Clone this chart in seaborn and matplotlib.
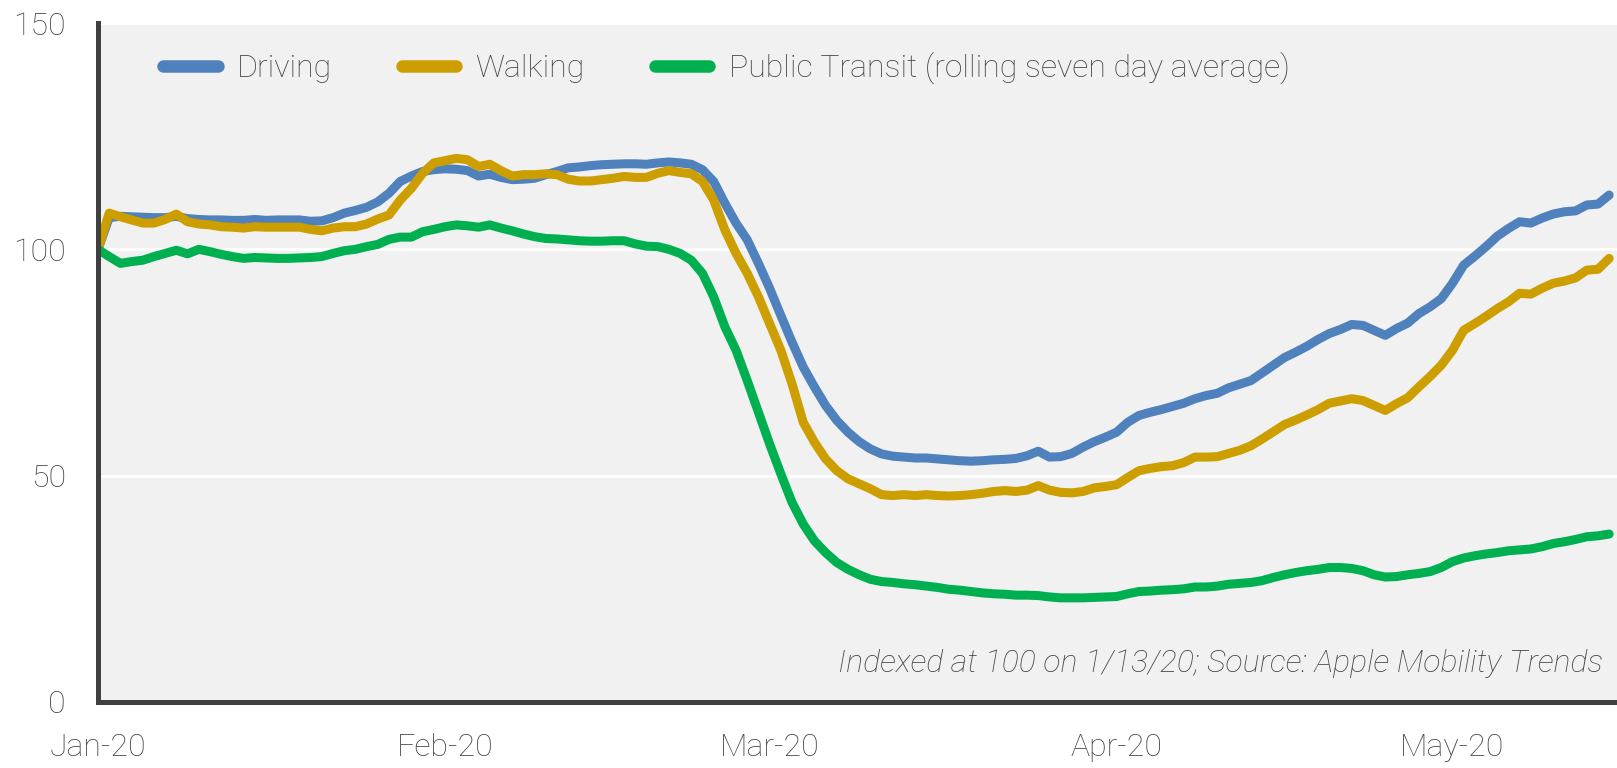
import pandas as pd
import matplotlib.pyplot as plt
import matplotlib.dates as mdates
import seaborn as sns

# daily values, indexed at 100 on 1/13/20
start_date = "2020-01-13"

driving = [
    100.0, 107.0, 107.3, 107.2, 107.1, 107.0, 107.0, 107.3, 106.8, 106.6,
    106.5, 106.5, 106.4, 106.4, 106.6, 106.4, 106.5, 106.5, 106.5, 106.2,
    106.3, 107.0, 108.0, 108.6, 109.3, 110.5, 112.4, 115.0, 116.2, 117.2,
    117.6, 117.8, 117.7, 117.4, 116.2, 116.6, 115.9, 115.4, 115.5, 115.7,
    116.5, 117.2, 118.0, 118.2, 118.5, 118.7, 118.8, 118.9, 118.9, 118.8,
    119.1, 119.3, 119.1, 118.8, 117.6, 115.0, 110.2, 105.8, 102.1, 96.9,
    91.4, 85.4, 79.5, 74.0, 69.6, 65.5, 62.2, 59.6, 57.5, 55.9,
    54.8, 54.3, 54.1, 53.9, 53.9, 53.7, 53.5, 53.3, 53.2, 53.3,
    53.5, 53.6, 53.8, 54.4, 55.4, 54.1, 54.2, 54.9, 56.3, 57.5,
    58.5, 59.6, 61.8, 63.3, 64.0, 64.6, 65.3, 66.0, 67.0, 67.7,
    68.2, 69.4, 70.2, 71.0, 72.7, 74.4, 76.1, 77.3, 78.6, 80.1,
    81.4, 82.3, 83.4, 83.2, 82.1, 81.0, 82.5, 83.7, 85.8, 87.3,
    89.1, 92.5, 96.5, 98.5, 100.6, 102.9, 104.6, 106.1, 105.8, 106.9,
    107.8, 108.3, 108.5, 109.8, 110.0, 112.0,
]

walking = [
    100.0, 108.0, 107.2, 106.5, 105.8, 105.8, 106.6, 107.8, 106.1, 105.6,
    105.4, 105.0, 104.9, 104.7, 105.0, 104.9, 104.9, 104.9, 104.9, 104.4,
    104.1, 104.7, 105.0, 105.0, 105.6, 106.7, 107.6, 110.9, 113.5, 116.8,
    119.1, 119.6, 120.1, 119.8, 118.3, 118.8, 117.4, 116.2, 116.5, 116.5,
    116.7, 116.5, 115.5, 115.1, 115.1, 115.4, 115.7, 116.1, 115.9, 115.9,
    116.8, 117.4, 117.0, 116.7, 115.0, 110.9, 104.3, 99.1, 94.7, 89.5,
    83.6, 77.7, 70.3, 61.8, 57.4, 53.7, 51.1, 49.3, 48.2, 47.1,
    45.8, 45.6, 45.8, 45.6, 45.8, 45.6, 45.5, 45.6, 45.8, 46.1,
    46.5, 46.7, 46.5, 46.8, 47.8, 46.8, 46.3, 46.2, 46.5, 47.3,
    47.6, 48.0, 49.6, 51.1, 51.6, 52.0, 52.2, 52.9, 54.1, 54.1,
    54.2, 54.9, 55.6, 56.6, 58.1, 59.7, 61.3, 62.3, 63.4, 64.6,
    66.0, 66.5, 67.0, 66.6, 65.5, 64.4, 65.9, 67.2, 69.6, 71.9,
    74.4, 77.7, 82.1, 83.6, 85.2, 86.9, 88.4, 90.3, 90.1, 91.4,
    92.5, 93.0, 93.7, 95.4, 95.6, 98.0,
]

transit = [
    100.0, 98.4, 96.9, 97.3, 97.6, 98.4, 99.1, 99.8, 99.0, 100.0,
    99.5, 98.9, 98.4, 98.0, 98.2, 98.1, 98.0, 98.0, 98.1, 98.2,
    98.4, 99.1, 99.7, 100.0, 100.6, 101.1, 102.2, 102.7, 102.7, 103.9,
    104.4, 105.0, 105.4, 105.2, 104.9, 105.4, 104.7, 104.1, 103.4, 102.8,
    102.4, 102.3, 102.1, 101.9, 101.8, 101.8, 101.9, 101.9, 101.2, 100.7,
    100.6, 100.0, 99.1, 97.6, 94.7, 89.5, 82.9, 77.7, 71.0, 64.0,
    57.0, 50.4, 44.1, 39.3, 35.6, 33.0, 30.8, 29.3, 28.1, 27.1,
    26.6, 26.4, 26.1, 25.9, 25.6, 25.3, 24.9, 24.7, 24.4, 24.1,
    23.9, 23.8, 23.6, 23.6, 23.5, 23.2, 23.0, 23.0, 23.0, 23.1,
    23.2, 23.3, 23.9, 24.4, 24.5, 24.7, 24.8, 25.0, 25.4, 25.4,
    25.6, 26.0, 26.2, 26.4, 26.8, 27.5, 28.1, 28.6, 29.0, 29.3,
    29.7, 29.7, 29.5, 29.0, 28.1, 27.6, 27.7, 28.1, 28.4, 28.8,
    29.7, 31.0, 31.8, 32.3, 32.7, 33.0, 33.4, 33.6, 33.8, 34.3,
    35.0, 35.4, 35.9, 36.5, 36.7, 37.1,
]

series_names = ["Driving", "Walking", "Public Transit (rolling seven day average)"]
series_colors = ["#4f81bd", "#cc9e00", "#00b050"]
tick_dates = ["2020-01-13", "2020-02-13", "2020-03-13", "2020-04-13", "2020-05-13"]
y_ticks = [0, 50, 100, 150]
note = "Indexed at 100 on 1/13/20; Source: Apple Mobility Trends"

dates = pd.date_range(start_date, periods=len(driving), freq="D")
df = pd.DataFrame({"date": dates, series_names[0]: driving,
                   series_names[1]: walking, series_names[2]: transit})
long_df = df.melt(id_vars="date", var_name="mode", value_name="index")

sns.set_style("white")
plt.rcParams["font.family"] = ["Roboto", "DejaVu Sans"]
plt.rcParams["font.weight"] = "light"
text_color = "#454545"

fig = plt.figure(figsize=(16.17, 7.68), dpi=100)
ax = fig.add_axes([0.0606, 0.086, 0.9394, 0.884])
ax.set_facecolor("#f1f1f1")

sns.lineplot(data=long_df, x="date", y="index", hue="mode",
             hue_order=series_names, palette=series_colors,
             linewidth=6.5, ax=ax)

ax.set_ylim(0, 150)
ax.set_yticks(y_ticks)
ax.set_xlim(pd.Timestamp(start_date), pd.Timestamp(start_date) + pd.Timedelta(days=135.7))
ax.set_xticks(pd.to_datetime(tick_dates))
ax.xaxis.set_major_formatter(mdates.DateFormatter("%b-%y"))
ax.set_xlabel("")
ax.set_ylabel("")

ax.grid(axis="y", color="white", linewidth=2)
ax.set_axisbelow(True)
for side in ["top", "right"]:
    ax.spines[side].set_visible(False)
for side in ["left", "bottom"]:
    ax.spines[side].set_color("#404040")
    ax.spines[side].set_linewidth(3.6)
ax.tick_params(axis="both", direction="out", length=7, width=2.8,
               color="#404040", labelcolor=text_color, labelsize=23)
ax.tick_params(axis="y", pad=16)
ax.tick_params(axis="x", pad=15)

leg = ax.legend(loc="upper left", ncol=3, frameon=False, fontsize=23,
                handlelength=1.7, handletextpad=0.6, columnspacing=2.2,
                bbox_to_anchor=(0.024, 1.0))
for line in leg.get_lines():
    line.set_linewidth(9)
    line.set_solid_capstyle("round")
for t in leg.get_texts():
    t.set_color(text_color)

ax.text(0.991, 0.057, note, transform=ax.transAxes, ha="right", va="center",
        fontsize=23, style="italic", color=text_color)

fig.savefig("out.png", dpi=100)
